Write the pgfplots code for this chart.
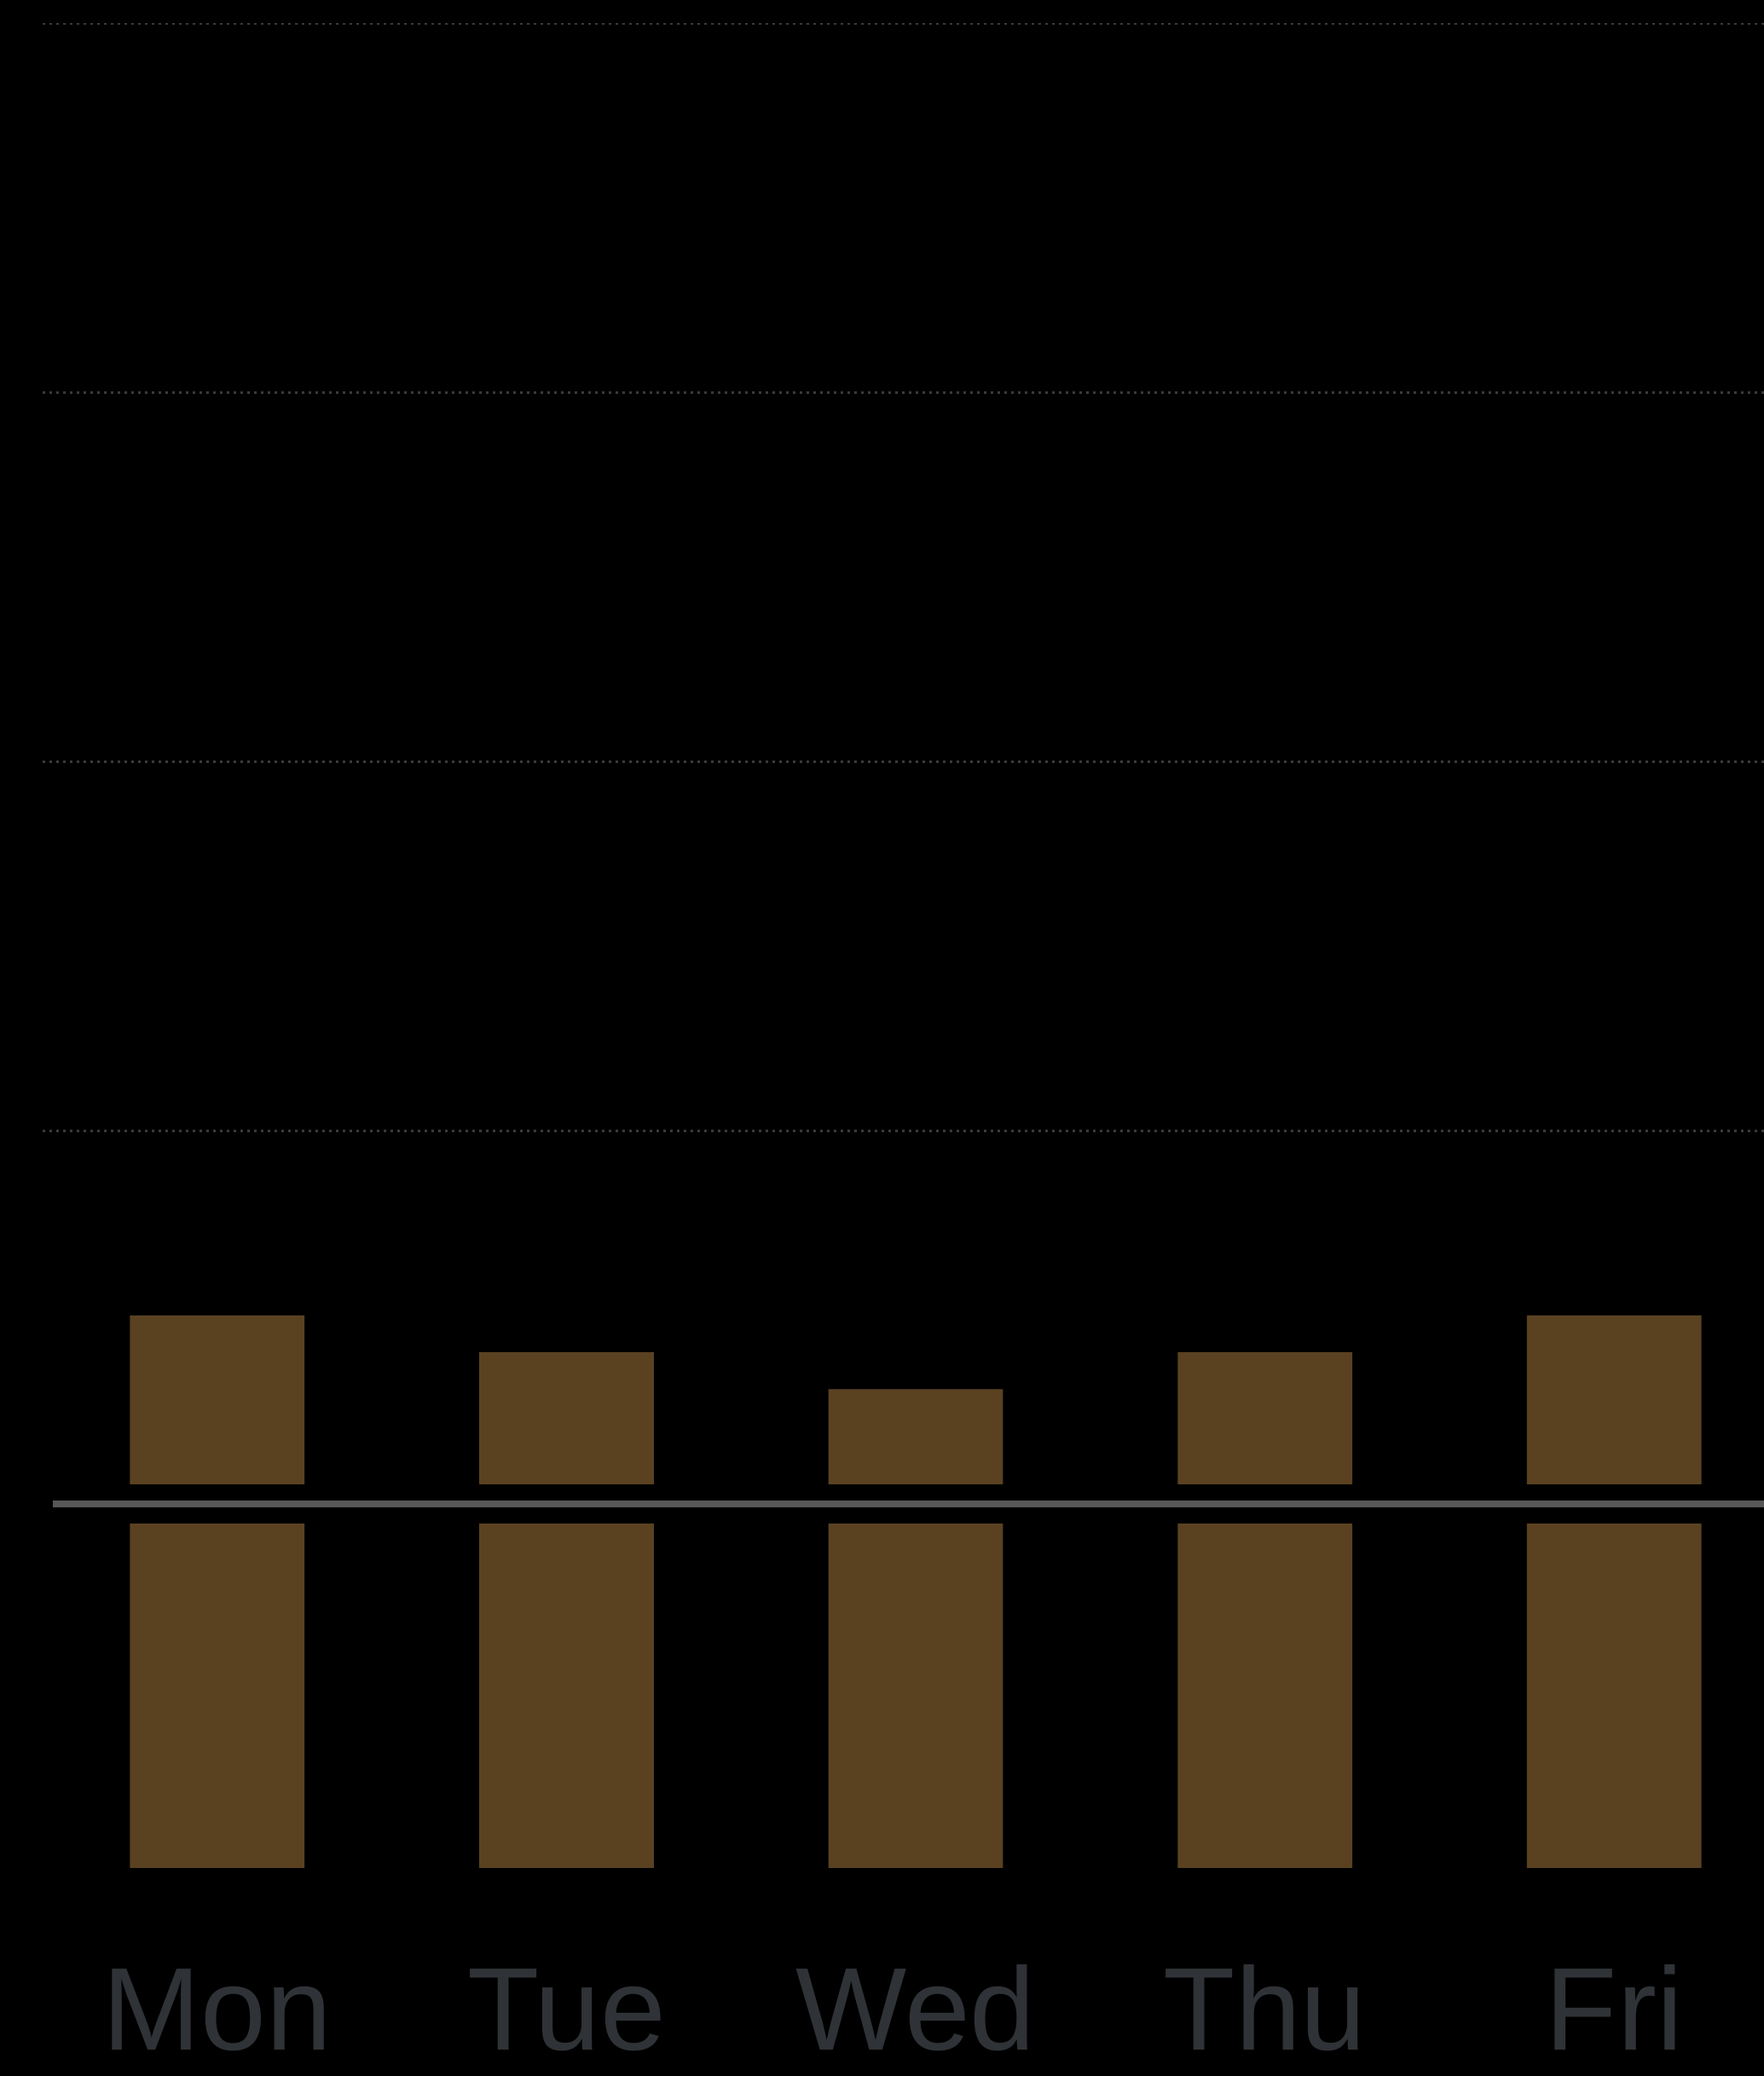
\documentclass[border=0pt]{standalone}
\usepackage{fontspec}
\setmainfont{Liberation Sans}
\usepackage{pgfplots}
\pgfplotsset{compat=1.18}
\usetikzlibrary{backgrounds}

\definecolor{barbrown}{HTML}{5A4221}
\definecolor{refline}{HTML}{575757}
\definecolor{gridgray}{HTML}{3A3A3A}
\definecolor{baseline}{HTML}{303336}
\definecolor{labelgray}{HTML}{2F3236}

\begin{document}
\begin{tikzpicture}
\begin{axis}[
    name=ax,
    scale only axis,
    width=201.9bp, height=219.2bp,
    xmin=-0.5, xmax=4.429,
    ymin=0, ymax=5.065,
    clip=false,
    axis line style={draw=none},
    xtick={0,1,2,3,4},
    xticklabels={Mon,Tue,Wed,Thu,Fri},
    xtick style={draw=none},
    xticklabel style={font=\fontsize{13.8bp}{16bp}\selectfont, text=labelgray, anchor=base, yshift=-21.2bp},
    ytick={1,2,3,4,5},
    yticklabels={},
    ytick style={draw=none},
    ymajorgrids,
    grid style={gridgray, line width=0.28bp, dash pattern=on 0.28bp off 0.52bp},
]
% bars
\addplot[ybar, bar width=0.5, fill=barbrown, draw=none]
    coordinates {(0,1.5) (1,1.4) (2,1.3) (3,1.4) (4,1.5)};
% gap behind the reference line
\addplot[black, line width=4.6bp, forget plot] coordinates {(-0.5,0.989) (4.429,0.989)};
% reference line
\addplot[refline, line width=0.8bp, forget plot] coordinates {(-0.471,0.989) (4.429,0.989)};
% baseline
\addplot[baseline, line width=0.3bp, forget plot] coordinates {(-0.551,0) (4.429,0)};
\end{axis}
\begin{scope}[on background layer]
\fill[black] ([shift={(-5bp,-24.3bp)}]ax.south west) rectangle (ax.north east);
\end{scope}
\pgfresetboundingbox
\useasboundingbox ([shift={(-5bp,-24.3bp)}]ax.south west) rectangle (ax.north east);
\end{tikzpicture}
\end{document}
